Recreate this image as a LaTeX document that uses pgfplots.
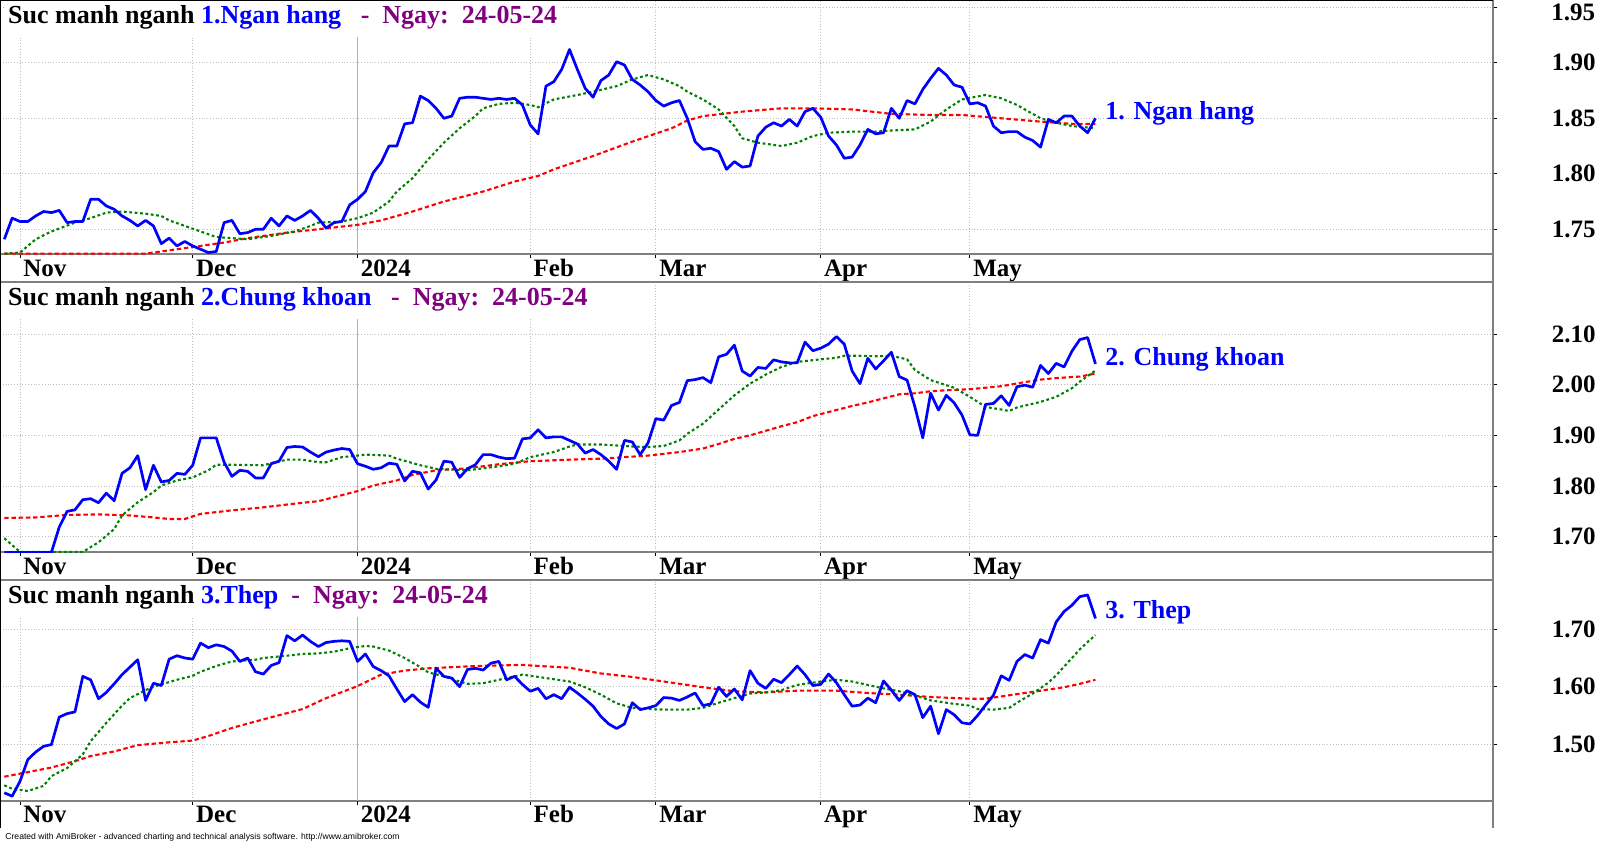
\documentclass[border=0pt]{standalone}
\usepackage{fontspec}
\setmainfont{Liberation Serif}
\newfontfamily\footfont{Liberation Sans}
\usepackage{pgfplots}
\pgfplotsset{compat=1.18}
\definecolor{amiblue}{RGB}{0,0,255}
\definecolor{amigreen}{RGB}{0,128,0}
\definecolor{amired}{RGB}{255,0,0}
\definecolor{amipurple}{RGB}{128,0,128}
\definecolor{gridgray}{RGB}{190,190,190}
\definecolor{axisgray}{RGB}{128,128,128}

\pgfplotsset{
  panel/.style={
    scale only axis, width=746.5pt,
    xmin=-0.548, xmax=189.64,
    axis x line*=bottom, axis y line*=right,
    axis line style={axisgray, line width=0.8pt},
    xtick={2,24,45,67,83,104,123},
    xticklabels={Nov,Dec,2024,Feb,Mar,Apr,May},
    xticklabel style={anchor=base west, inner sep=0pt, xshift=1.5pt, yshift=-9pt, font=\bfseries\fontsize{12.5}{14}\selectfont},
    yticklabel style={anchor=east, inner sep=0pt, xshift=49.5pt, font=\bfseries\fontsize{12.5}{14}\selectfont},
    tick align=outside, major tick length=2pt,
    tick style={black, line width=0.5pt},
    xmajorgrids, ymajorgrids,
    major grid style={gridgray, densely dotted, line width=0.5pt},
    extra x ticks={45}, extra x tick labels={},
    extra x tick style={grid=major, major grid style={solid, axisgray!60, line width=0.6pt}},
    clip=true,
  },
  blueline/.style={amiblue, line width=1.35pt, line join=round, no markers},
  greenline/.style={amigreen, line width=1.05pt, dash pattern=on 1.4pt off 1.3pt, no markers},
  redline/.style={amired, line width=1.05pt, dash pattern=on 2.2pt off 1.4pt, no markers},
}
\tikzset{
  amititle/.style={anchor=base west, fill=white, inner xsep=2pt, inner ysep=4pt, font=\bfseries\fontsize{13}{15}\selectfont},
  amiend/.style={anchor=west, inner sep=0pt, text=amiblue, font=\bfseries\fontsize{13}{15}\selectfont},
}

\begin{document}
\begin{tikzpicture}
\useasboundingbox (0,0) rectangle (800pt,-421pt);

% ---------------- Panel 1: Ngan hang ----------------
\begin{axis}[panel, at={(0pt,0pt)}, anchor=north west, height=127pt,
  ymin=1.7277, ymax=1.9566,
  ytick={1.75,1.80,1.85,1.90,1.95}, yticklabels={1.75,1.80,1.85,1.90,{}}]
\addplot[redline] coordinates {(0,1.728)(18,1.728)(20,1.730)(22,1.732)(25,1.735)(28,1.738)(31,1.742)(36,1.747)(40,1.750)(45,1.754)(48,1.758)(52,1.766)(56,1.775)(61,1.784)(65,1.793)(68,1.798)(70,1.804)(75,1.816)(80,1.829)(85,1.841)(87,1.848)(89,1.852)(94,1.856)(99,1.859)(103,1.859)(108,1.858)(113,1.854)(118,1.853)(122,1.853)(127,1.850)(132,1.847)(136,1.845)(139,1.845)};
\addplot[greenline] coordinates {(0,1.728)(2,1.729)(4,1.741)(6,1.748)(9,1.756)(11,1.760)(13,1.765)(15,1.766)(18,1.764)(20,1.762)(21,1.758)(23,1.753)(25,1.748)(27,1.743)(29,1.742)(31,1.741)(34,1.744)(37,1.748)(39,1.753)(40,1.756)(43,1.757)(45,1.760)(47,1.765)(49,1.775)(50,1.784)(52,1.796)(54,1.813)(56,1.828)(58,1.841)(60,1.852)(61,1.859)(63,1.863)(65,1.864)(67,1.862)(68,1.860)(70,1.867)(73,1.871)(75,1.874)(78,1.879)(80,1.885)(82,1.889)(84,1.885)(86,1.879)(87,1.874)(89,1.867)(91,1.858)(93,1.843)(94,1.832)(96,1.828)(99,1.825)(101,1.828)(103,1.834)(105,1.837)(108,1.838)(111,1.838)(113,1.839)(116,1.840)(118,1.847)(120,1.858)(122,1.867)(125,1.871)(127,1.868)(129,1.862)(132,1.850)(134,1.846)(136,1.843)(139,1.841)};
\addplot[blueline] coordinates {(0,1.741)(1,1.760)(2,1.757)(3,1.757)(4,1.762)(5,1.766)(6,1.765)(7,1.767)(8,1.756)(9,1.757)(10,1.757)(11,1.777)(12,1.777)(13,1.771)(14,1.768)(15,1.762)(16,1.758)(17,1.753)(18,1.758)(19,1.753)(20,1.737)(21,1.742)(22,1.735)(23,1.739)(24,1.735)(25,1.732)(26,1.729)(27,1.730)(28,1.756)(29,1.758)(30,1.746)(31,1.747)(32,1.750)(33,1.750)(34,1.760)(35,1.753)(36,1.762)(37,1.758)(38,1.762)(39,1.767)(40,1.760)(41,1.751)(42,1.756)(43,1.757)(44,1.772)(45,1.777)(46,1.784)(47,1.801)(48,1.810)(49,1.825)(50,1.825)(51,1.845)(52,1.846)(53,1.870)(54,1.866)(55,1.859)(56,1.850)(57,1.852)(58,1.868)(59,1.869)(60,1.869)(61,1.868)(62,1.867)(63,1.868)(64,1.867)(65,1.868)(66,1.862)(67,1.844)(68,1.836)(69,1.879)(70,1.883)(71,1.894)(72,1.912)(73,1.894)(74,1.877)(75,1.869)(76,1.884)(77,1.889)(78,1.901)(79,1.898)(80,1.885)(81,1.880)(82,1.874)(83,1.866)(84,1.861)(85,1.864)(86,1.866)(87,1.850)(88,1.829)(89,1.822)(90,1.823)(91,1.820)(92,1.804)(93,1.811)(94,1.806)(95,1.807)(96,1.834)(97,1.842)(98,1.846)(99,1.843)(100,1.849)(101,1.843)(102,1.856)(103,1.859)(104,1.851)(105,1.834)(106,1.826)(107,1.814)(108,1.815)(109,1.826)(110,1.840)(111,1.836)(112,1.837)(113,1.859)(114,1.850)(115,1.866)(116,1.863)(117,1.876)(118,1.886)(119,1.895)(120,1.889)(121,1.880)(122,1.878)(123,1.863)(124,1.864)(125,1.861)(126,1.843)(127,1.837)(128,1.838)(129,1.838)(130,1.833)(131,1.830)(132,1.824)(133,1.849)(134,1.846)(135,1.852)(136,1.852)(137,1.843)(138,1.837)(139,1.850)};
\end{axis}

% ---------------- Panel 2: Chung khoan ----------------
\begin{axis}[panel, at={(0pt,-141pt)}, anchor=north west, height=135pt,
  ymin=1.6698, ymax=2.2026,
  ytick={1.70,1.80,1.90,2.00,2.10}, yticklabels={1.70,1.80,1.90,2.00,2.10}]
\addplot[redline] coordinates {(0,1.737)(4,1.738)(8,1.743)(12,1.744)(16,1.742)(19,1.738)(21,1.735)(23,1.735)(25,1.745)(29,1.752)(33,1.758)(38,1.767)(40,1.770)(42,1.778)(45,1.790)(47,1.801)(50,1.811)(52,1.822)(55,1.831)(59,1.835)(63,1.843)(67,1.849)(72,1.852)(76,1.854)(80,1.858)(82,1.860)(86,1.867)(89,1.874)(91,1.883)(93,1.893)(95,1.900)(97,1.909)(99,1.918)(101,1.926)(103,1.938)(106,1.950)(108,1.958)(110,1.965)(112,1.973)(114,1.981)(116,1.983)(118,1.987)(120,1.989)(123,1.991)(125,1.994)(127,1.997)(130,2.005)(132,2.010)(134,2.013)(137,2.016)(139,2.022)};
\addplot[greenline] coordinates {(0,1.697)(2,1.670)(10,1.670)(12,1.689)(14,1.715)(15,1.742)(17,1.768)(19,1.788)(20,1.801)(22,1.811)(24,1.817)(26,1.831)(27,1.842)(29,1.842)(33,1.841)(34,1.845)(36,1.852)(38,1.852)(40,1.847)(41,1.847)(43,1.857)(45,1.860)(46,1.862)(49,1.860)(50,1.854)(53,1.841)(55,1.834)(59,1.831)(63,1.839)(65,1.844)(67,1.857)(70,1.867)(72,1.878)(73,1.882)(76,1.882)(78,1.880)(80,1.878)(82,1.877)(84,1.879)(86,1.890)(87,1.903)(89,1.923)(91,1.951)(93,1.979)(95,2.002)(97,2.020)(99,2.035)(101,2.045)(104,2.050)(106,2.053)(107,2.057)(109,2.057)(111,2.056)(113,2.057)(115,2.050)(116,2.029)(118,2.009)(121,1.994)(123,1.976)(125,1.956)(127,1.951)(128,1.948)(129,1.955)(132,1.966)(134,1.976)(136,1.993)(137,2.006)(139,2.028)};
\addplot[blueline] coordinates {(0,1.669)(6,1.669)(7,1.719)(8,1.750)(9,1.753)(10,1.773)(11,1.775)(12,1.767)(13,1.786)(14,1.771)(15,1.825)(16,1.836)(17,1.860)(18,1.793)(19,1.841)(20,1.808)(21,1.811)(22,1.825)(23,1.823)(24,1.841)(25,1.895)(26,1.895)(27,1.895)(28,1.847)(29,1.819)(30,1.831)(31,1.829)(32,1.816)(33,1.816)(34,1.844)(35,1.849)(36,1.876)(37,1.878)(38,1.877)(39,1.867)(40,1.858)(41,1.867)(42,1.871)(43,1.874)(44,1.872)(45,1.844)(46,1.839)(47,1.833)(48,1.836)(49,1.845)(50,1.843)(51,1.810)(52,1.829)(53,1.826)(54,1.794)(55,1.812)(56,1.849)(57,1.847)(58,1.817)(59,1.834)(60,1.842)(61,1.862)(62,1.862)(63,1.857)(64,1.854)(65,1.855)(66,1.893)(67,1.895)(68,1.911)(69,1.895)(70,1.897)(71,1.897)(72,1.890)(73,1.883)(74,1.865)(75,1.872)(76,1.862)(77,1.849)(78,1.833)(79,1.890)(80,1.887)(81,1.862)(82,1.885)(83,1.933)(84,1.930)(85,1.959)(86,1.965)(87,2.008)(88,2.010)(89,2.014)(90,2.004)(91,2.055)(92,2.060)(93,2.078)(94,2.027)(95,2.017)(96,2.034)(97,2.032)(98,2.049)(99,2.045)(100,2.043)(101,2.043)(102,2.084)(103,2.067)(104,2.072)(105,2.080)(106,2.095)(107,2.080)(108,2.027)(109,2.002)(110,2.052)(111,2.031)(112,2.047)(113,2.064)(114,2.016)(115,2.009)(116,1.956)(117,1.895)(118,1.983)(119,1.950)(120,1.979)(121,1.964)(122,1.940)(123,1.901)(124,1.900)(125,1.961)(126,1.963)(127,1.978)(128,1.959)(129,1.996)(130,1.999)(131,1.995)(132,2.038)(133,2.022)(134,2.042)(135,2.035)(136,2.066)(137,2.089)(138,2.093)(139,2.041)};
\end{axis}

% ---------------- Panel 3: Thep ----------------
\begin{axis}[panel, at={(0pt,-290pt)}, anchor=north west, height=110.35pt,
  ymin=1.4011, ymax=1.786,
  ytick={1.50,1.60,1.70}, yticklabels={1.50,1.60,1.70}]
\addplot[redline] coordinates {(0,1.443)(3,1.451)(6,1.459)(9,1.470)(11,1.479)(14,1.487)(17,1.498)(21,1.503)(24,1.506)(26,1.514)(29,1.528)(33,1.543)(38,1.561)(41,1.580)(45,1.601)(48,1.621)(51,1.628)(54,1.632)(57,1.634)(60,1.636)(63,1.637)(66,1.638)(67,1.637)(72,1.633)(76,1.623)(80,1.617)(84,1.609)(89,1.599)(93,1.592)(97,1.590)(101,1.593)(106,1.593)(110,1.589)(114,1.586)(118,1.582)(123,1.579)(125,1.579)(127,1.583)(130,1.589)(133,1.595)(135,1.599)(137,1.605)(139,1.612)};
\addplot[greenline] coordinates {(0,1.428)(1,1.422)(3,1.418)(5,1.427)(6,1.444)(8,1.458)(10,1.482)(11,1.505)(13,1.537)(15,1.567)(16,1.580)(18,1.594)(19,1.600)(22,1.612)(24,1.619)(25,1.626)(27,1.636)(29,1.644)(32,1.647)(33,1.650)(36,1.654)(38,1.657)(40,1.658)(42,1.661)(44,1.667)(46,1.671)(47,1.670)(49,1.663)(51,1.650)(53,1.634)(54,1.625)(56,1.618)(58,1.609)(59,1.605)(61,1.606)(63,1.612)(66,1.621)(69,1.615)(72,1.609)(74,1.599)(76,1.586)(78,1.571)(80,1.563)(82,1.561)(84,1.560)(87,1.560)(89,1.563)(91,1.572)(93,1.580)(95,1.588)(97,1.590)(99,1.594)(101,1.603)(104,1.609)(106,1.612)(108,1.609)(110,1.603)(112,1.597)(114,1.592)(116,1.585)(118,1.576)(121,1.570)(123,1.567)(124,1.561)(126,1.560)(128,1.563)(129,1.572)(131,1.588)(133,1.607)(134,1.620)(136,1.650)(137,1.665)(138,1.678)(139,1.690)};
\addplot[blueline] coordinates {(0,1.415)(1,1.409)(2,1.435)(3,1.473)(4,1.486)(5,1.496)(6,1.499)(7,1.547)(8,1.553)(9,1.556)(10,1.618)(11,1.612)(12,1.579)(13,1.590)(14,1.605)(15,1.621)(16,1.634)(17,1.647)(18,1.576)(19,1.606)(20,1.602)(21,1.648)(22,1.654)(23,1.650)(24,1.648)(25,1.676)(26,1.668)(27,1.673)(28,1.670)(29,1.662)(30,1.644)(31,1.650)(32,1.626)(33,1.622)(34,1.637)(35,1.642)(36,1.689)(37,1.680)(38,1.690)(39,1.679)(40,1.670)(41,1.677)(42,1.679)(43,1.680)(44,1.679)(45,1.644)(46,1.657)(47,1.635)(48,1.628)(49,1.619)(50,1.596)(51,1.574)(52,1.586)(53,1.573)(54,1.564)(55,1.632)(56,1.618)(57,1.615)(58,1.600)(59,1.630)(60,1.632)(61,1.629)(62,1.641)(63,1.644)(64,1.612)(65,1.618)(66,1.604)(67,1.592)(68,1.597)(69,1.579)(70,1.586)(71,1.579)(72,1.599)(73,1.589)(74,1.578)(75,1.566)(76,1.548)(77,1.535)(78,1.527)(79,1.535)(80,1.572)(81,1.560)(82,1.563)(83,1.567)(84,1.581)(85,1.580)(86,1.576)(87,1.582)(88,1.589)(89,1.567)(90,1.570)(91,1.599)(92,1.583)(93,1.596)(94,1.577)(95,1.628)(96,1.606)(97,1.597)(98,1.613)(99,1.607)(100,1.621)(101,1.636)(102,1.621)(103,1.602)(104,1.604)(105,1.622)(106,1.607)(107,1.586)(108,1.566)(109,1.568)(110,1.580)(111,1.572)(112,1.610)(113,1.594)(114,1.576)(115,1.593)(116,1.586)(117,1.546)(118,1.566)(119,1.518)(120,1.560)(121,1.551)(122,1.537)(123,1.535)(124,1.550)(125,1.568)(126,1.585)(127,1.619)(128,1.611)(129,1.644)(130,1.656)(131,1.650)(132,1.682)(133,1.676)(134,1.713)(135,1.731)(136,1.742)(137,1.757)(138,1.760)(139,1.719)};
\end{axis}

% ---------------- Titles ----------------
\node[amititle] at (1.9pt,-11.8pt) {Suc manh nganh \textcolor{amiblue}{1.Ngan hang}\ \ \ \textcolor{amipurple}{-\ \ Ngay:\ \ 24-05-24}};
\node[amititle] at (1.9pt,-152.8pt) {Suc manh nganh \textcolor{amiblue}{2.Chung khoan}\ \ \ \textcolor{amipurple}{-\ \ Ngay:\ \ 24-05-24}};
\node[amititle] at (1.9pt,-301.8pt) {Suc manh nganh \textcolor{amiblue}{3.Thep}\ \ \textcolor{amipurple}{-\ \ Ngay:\ \ 24-05-24}};

% top tick label of panel 1, kept inside the picture as in the reference
\node[anchor=east, inner sep=0pt, font=\bfseries\fontsize{12.5}{14}\selectfont] at (797.8pt,-6.2pt) {1.95};

% ---------------- End labels ----------------
\node[amiend] at (552.5pt,-56.5pt) {1. Ngan hang};
\node[amiend] at (552.5pt,-179.5pt) {2. Chung khoan};
\node[amiend] at (552.5pt,-306pt) {3. Thep};

% ---------------- Frame ----------------
\draw[axisgray, line width=0.8pt] (0pt,-141pt) -- (746.5pt,-141pt);
\draw[axisgray, line width=0.8pt] (0pt,-290pt) -- (746.5pt,-290pt);
\draw[axisgray, line width=0.8pt] (746.5pt,0pt) -- (746.5pt,-414pt);
\draw[black, line width=1pt] (0pt,0pt) -- (746.5pt,0pt);
\draw[black, line width=1.2pt] (0pt,0pt) -- (0pt,-414pt);

% ---------------- Footer ----------------
\node[anchor=base west, inner sep=0pt, font=\footfont\fontsize{4.3}{5}\selectfont] at (2.5pt,-419.5pt) {Created with AmiBroker - advanced charting and technical analysis software. http://www.amibroker.com};
\end{tikzpicture}
\end{document}
